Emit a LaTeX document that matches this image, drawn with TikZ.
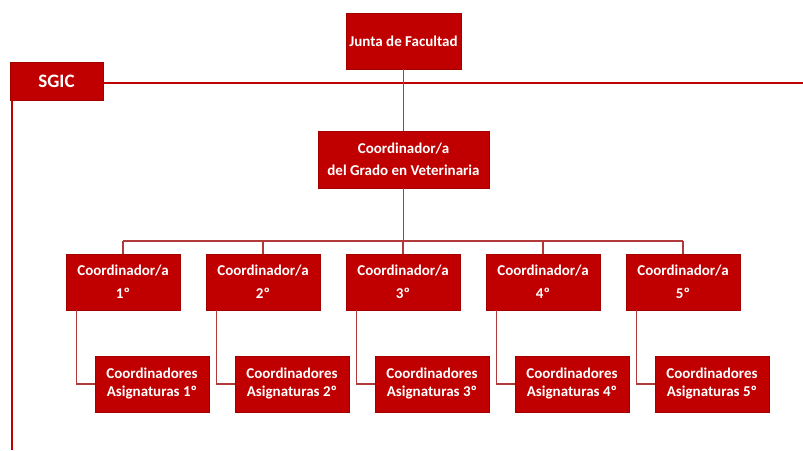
\documentclass[tikz,border=0pt]{standalone}
\usepackage{fontspec}
\setmainfont{Carlito}
\usepackage{tikz}
\usetikzlibrary{positioning,calc}

\definecolor{uvred}{HTML}{C00000}
\definecolor{linkred}{HTML}{B03A3A}

\tikzset{
    box/.style={rectangle, fill=uvred, draw=uvred!85!black, text=white, align=center,
        inner sep=0pt, minimum width=114pt, minimum height=56pt,
        font=\bfseries\fontsize{15}{18}\selectfont},
    link/.style={draw=linkred, line width=1.1pt},
    sgicline/.style={draw=uvred, line width=2.2pt},
}

\begin{document}
\begin{tikzpicture}[x=1pt,y=-1pt]
    \useasboundingbox (0,0) rectangle (803,450);

    % Top of the tree
    \node[box, minimum width=115pt] (junta) at (403.5,41) {Junta de Facultad};
    \node[box, minimum width=93pt, minimum height=38pt, font=\bfseries\fontsize{19}{21}\selectfont] (sgic) at (56.5,81) {SGIC};
    \node[box, minimum width=171pt, minimum height=57pt] (grado) at (403.5,159.5) {Coordinador/a\\[4pt]del Grado en Veterinaria};

    % SGIC lines
    \coordinate (sgicEnd) at (803,83);
    \coordinate (sgicDown) at (12,450);
    \draw[sgicline] (sgic.east |- sgicEnd) -- (sgicEnd);
    \draw[sgicline] (sgic.south west -| sgicDown) -- (sgicDown);

    \draw[link] (junta.south) -- (grado.north);

    % Course coordinators and subject coordinators
    \coordinate (bus) at (403.5,241);
    \draw[link] (grado.south) -- (bus);
    \foreach \i in {1,...,5} {
        \node[box] (coord\i) at ({123+140*(\i-1)},282) {Coordinador/a\\[5pt]\i º};
        \node[box] (asig\i) at ({152+140*(\i-1)},384) {Coordinadores\\Asignaturas \i º};
        \draw[link] (coord\i.north) -- (coord\i.north |- bus);
        \draw[link] ($(coord\i.south west)+(11,0)$) |- (asig\i.west);
    }
    \draw[link] (coord1.north |- bus) -- (coord5.north |- bus);
\end{tikzpicture}
\end{document}
